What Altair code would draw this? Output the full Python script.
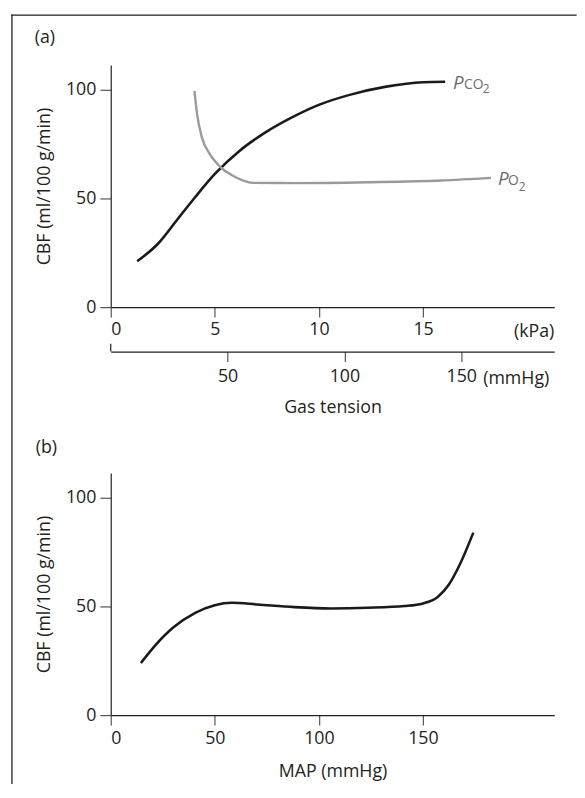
import altair as alt
import pandas as pd

# ---- data ----
pco2_kpa = [1.27, 2.29, 3.18, 4.06, 5.0, 6.18, 7.41, 8.82, 10.02, 11.47, 13.23, 15.0, 16.06]
pco2_cbf = [21.1, 29.4, 40.1, 50.7, 61.3, 71.9, 80.3, 87.9, 93.2, 97.7, 101.5, 103.5, 103.7]

po2_kpa = [4.02, 4.15, 4.38, 4.76, 5.29, 6.0, 6.88, 8.82, 12.35, 15.88, 18.26]
po2_cbf = [99.5, 88.6, 78.0, 70.4, 64.3, 59.8, 57.2, 57.1, 57.5, 58.3, 59.5]

map_mmhg = [14.5, 21.2, 30.0, 40.6, 50.0, 58.2, 70.6, 88.2, 105.9, 123.5, 141.2,
            150.0, 157.1, 162.4, 167.6, 174.2]
map_cbf = [24.0, 31.9, 40.3, 47.1, 50.6, 51.7, 50.9, 49.7, 49.1, 49.4, 50.2,
           51.4, 54.4, 60.0, 69.1, 84.0]

kpa_ticks = [0, 5, 10, 15]
mmhg_ticks = [50, 100, 150]
map_ticks = [0, 50, 100, 150]
cbf_ticks = [0, 50, 100]

# label anchor points (kPa, CBF)
label_names = ["PCO2", "PO2"]
label_kpa = [16.44, 18.6]
label_cbf = [100.5, 56.4]

W, H = 449, 245
FONT = "Open Sans"
FS = 18
INK = "#231f20"
GREY_TXT = "#6d6e71"

y_scale = alt.Scale(domain=[0, 111.4], nice=False, zero=True)
y_axis = alt.Axis(values=cbf_ticks, tickSize=11, labelPadding=4,
                  title="CBF (ml/100 g/min)", titlePadding=12)

kpa_scale = alt.Scale(domain=[0, 21.3], nice=False, zero=True)
kpa_axis = alt.Axis(values=kpa_ticks, tickSize=10, labelPadding=4, title=None,
                    orient="bottom")

mmhg_scale = alt.Scale(domain=[0, 189.8], nice=False, zero=True)
mmhg_axis = alt.Axis(values=mmhg_ticks, tickSize=10, labelPadding=6, offset=45,
                     orient="bottom", title="Gas tension", titlePadding=14)

map_scale = alt.Scale(domain=[0, 213.1], nice=False, zero=True)
map_axis = alt.Axis(values=map_ticks, tickSize=10, labelPadding=5,
                    title="MAP (mmHg)", titlePadding=15)

one = pd.DataFrame({"a": [0]})

# ---- top panel ----
df_pco2 = pd.DataFrame({"kpa": pco2_kpa, "cbf": pco2_cbf})
df_po2 = pd.DataFrame({"kpa": po2_kpa, "cbf": po2_cbf})
df_lab = pd.DataFrame({"kpa": label_kpa, "cbf": label_cbf, "name": label_names})

X_kpa = alt.X("kpa:Q", scale=kpa_scale, axis=kpa_axis)
Y_cbf = alt.Y("cbf:Q", scale=y_scale, axis=y_axis)

pco2_line = alt.Chart(df_pco2).mark_line(
    color="#1a1a1a", strokeWidth=2.6, interpolate="monotone"
).encode(x=X_kpa, y=Y_cbf)

po2_line = alt.Chart(df_po2).mark_line(
    color="#9a9a9a", strokeWidth=2.4, interpolate="monotone"
).encode(x=X_kpa, y=Y_cbf)

lab_p = alt.Chart(df_lab).mark_text(
    text="P", font=FONT, fontSize=19, fontStyle="italic", color=GREY_TXT,
    align="left", baseline="alphabetic"
).encode(x=X_kpa, y=Y_cbf)

lab_co = alt.Chart(df_lab[df_lab["name"] == "PCO2"]).mark_text(
    text="CO", font=FONT, fontSize=14, color=GREY_TXT,
    align="left", baseline="alphabetic", dx=11
).encode(x=X_kpa, y=Y_cbf)

lab_o = alt.Chart(df_lab[df_lab["name"] == "PO2"]).mark_text(
    text="O", font=FONT, fontSize=14, color=GREY_TXT,
    align="left", baseline="alphabetic", dx=10
).encode(x=X_kpa, y=Y_cbf)

lab_2a = alt.Chart(df_lab[df_lab["name"] == "PCO2"]).mark_text(
    text="2", font=FONT, fontSize=12, color=GREY_TXT,
    align="left", baseline="alphabetic", dx=30, dy=4
).encode(x=X_kpa, y=Y_cbf)

lab_2b = alt.Chart(df_lab[df_lab["name"] == "PO2"]).mark_text(
    text="2", font=FONT, fontSize=12, color=GREY_TXT,
    align="left", baseline="alphabetic", dx=21, dy=6
).encode(x=X_kpa, y=Y_cbf)

panel_a = alt.Chart(one).mark_text(
    text="(a)", font=FONT, fontSize=FS, color=INK, align="left", baseline="middle"
).encode(x=alt.value(-77), y=alt.value(-27))

frame_top = alt.Chart(one).mark_rule(color=INK, strokeWidth=1.3, strokeCap="square").encode(
    x=alt.value(-100), x2=alt.value(471), y=alt.value(-50.7))
frame_left = alt.Chart(one).mark_rule(color=INK, strokeWidth=1.3, strokeCap="square").encode(
    x=alt.value(-100), y=alt.value(-50.7), y2=alt.value(727))

inner = alt.layer(pco2_line, po2_line, lab_p, lab_co, lab_o, lab_2a, lab_2b,
                  panel_a, frame_top, frame_left)

df_mm = pd.DataFrame({"mmhg": [0]})
mmhg_layer = alt.Chart(df_mm).mark_rule(color=INK, strokeWidth=1.2).encode(
    x=alt.X("mmhg:Q", scale=mmhg_scale, axis=mmhg_axis),
    y=alt.value(H + 37), y2=alt.value(H + 45)
)

top = alt.layer(inner, mmhg_layer).resolve_scale(x="independent").properties(
    width=W, height=H)

units = alt.Chart(one).mark_text(
    text="(kPa)", font=FONT, fontSize=FS, color=INK, align="right", baseline="middle"
).encode(x=alt.value(W), y=alt.value(H + 25))
units_mm = alt.Chart(one).mark_text(
    text="(mmHg)", font=FONT, fontSize=FS, color=INK, align="left", baseline="middle"
).encode(x=alt.value(377), y=alt.value(H + 73))

top = alt.layer(top, units, units_mm)

# ---- bottom panel ----
df_map = pd.DataFrame({"map": map_mmhg, "cbf": map_cbf})
map_line = alt.Chart(df_map).mark_line(
    color="#1a1a1a", strokeWidth=2.6, interpolate="monotone"
).encode(x=alt.X("map:Q", scale=map_scale, axis=map_axis), y=Y_cbf)

panel_b = alt.Chart(one).mark_text(
    text="(b)", font=FONT, fontSize=FS, color=INK, align="left", baseline="middle"
).encode(x=alt.value(-76), y=alt.value(-25))

bottom = alt.layer(map_line, panel_b).properties(width=W, height=H)

chart = alt.vconcat(top, bottom, spacing=168, bounds="flush").properties(
    padding={"left": 3, "top": 1, "right": 0, "bottom": 0}
).configure_view(stroke=None).configure_axis(
    grid=False,
    labelFont=FONT, labelFontSize=FS, labelColor=INK,
    titleFont=FONT, titleFontSize=FS, titleFontWeight="normal", titleColor=INK,
    domainColor=INK, domainWidth=1.2, tickColor="#555", tickWidth=1.2,
)

chart.save("out.html", embed_options={"renderer": "svg", "actions": False})
